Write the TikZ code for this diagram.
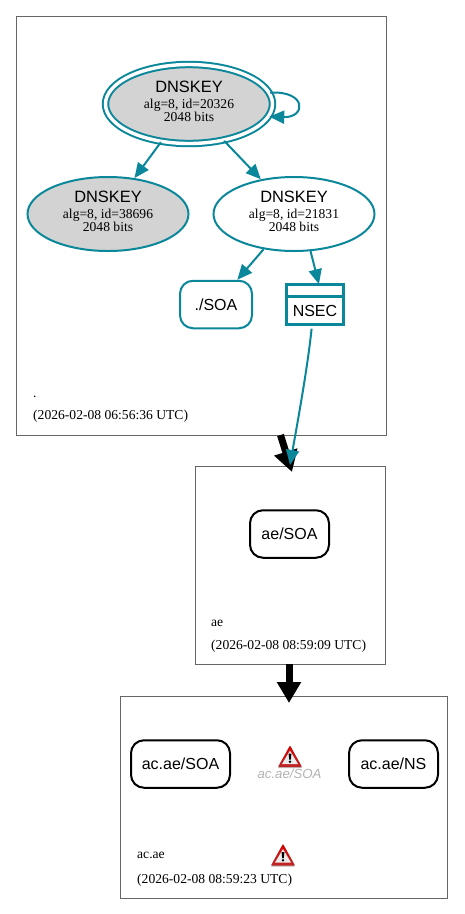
\documentclass[tikz,border=0pt]{standalone}
\usepackage{fontspec}
\setmainfont{Liberation Serif}
\setsansfont{Liberation Sans}
\usetikzlibrary{arrows.meta,positioning,shapes.geometric}
\definecolor{dnsteal}{HTML}{0A879A}
\definecolor{zonegray}{HTML}{666666}
\definecolor{keygray}{HTML}{D3D3D3}
\newcommand{\keylabel}[1]{{\sffamily\fontsize{16.4}{16}\selectfont DNSKEY}\\[2.5pt]
  alg=8, id=#1\\2048 bits\rule[-5pt]{0pt}{5pt}}
\tikzset{
  zone/.style={draw=zonegray,line width=0.7pt,inner sep=0pt,outer sep=0pt},
  zonetext/.style={anchor=base west,inner sep=0pt,font=\fontsize{13.6}{14}\selectfont},
  keynode/.style={ellipse,draw=dnsteal,line width=2pt,inner sep=0pt,align=center,
    minimum width=161pt,minimum height=74pt,font=\fontsize{13.6}{13}\selectfont},
  rrset/.style={draw,rounded corners=13pt,line width=2pt,inner sep=0pt,minimum height=47.5pt,
    font=\sffamily\fontsize{16}{16}\selectfont},
  nsecbox/.style={draw=dnsteal,line width=2.7pt,inner sep=0pt,outer sep=0pt,minimum width=57pt},
  signed/.style={draw=dnsteal,line width=2pt,-{Triangle[length=15pt,width=13pt]}},
  delegation/.style={line width=7pt,-{Triangle[length=21pt,width=23pt]}},
  warnicon/.pic={
    \fill[black!25,rounded corners=1pt] (-12.5,11.5) -- (0,-11.5) -- (12.5,11.5) -- cycle;
    \shade[top color=red!85!black,bottom color=red!70!black!85!white,rounded corners=1pt]
      (-12,10.5) -- (0,-11) -- (12,10.5) -- cycle;
    \fill[white!92!black] (-8,7.5) -- (0,-6) -- (8,7.5) -- cycle;
    \fill[black] (-1.4,-3) -- (1.4,-3) -- (0.8,3.2) -- (-0.8,3.2) -- cycle;
    \fill[black] (0,5.2) circle (1.3);
  }
}
\begin{document}
\begin{tikzpicture}[x=1pt,y=-1pt]
\useasboundingbox (0,0) rectangle (464,914);
% zones
\node[zone,minimum width=370pt,minimum height=419pt] (rootzone) at (201,225.5) {};
\node[zone,minimum width=190pt,minimum height=198pt] (aezone) at (290,565) {};
\node[zone,minimum width=327pt,minimum height=202pt] (aczone) at (283.5,797) {};
\node[zonetext] (rootname) at (33,397) {.};
\node[zonetext] (rootdate) at (33,419.5) {(2026-02-08 06:56:36 UTC)};
\node[zonetext] (aename) at (211,626) {ae};
\node[zonetext] (aedate) at (211,649.5) {(2026-02-08 08:59:09 UTC)};
\node[zonetext] (acname) at (137,858) {ac.ae};
\node[zonetext] (acdate) at (137,883.5) {(2026-02-08 08:59:23 UTC)};

% delegations
\coordinate (rootexit) at (280.5,435);
\coordinate (aeinto) at (292,472);
\coordinate (aeexit) at (289,664);
\coordinate (acinto) at (289,703);
\draw[delegation] (rootexit) -- (aeinto);
\draw[delegation] (aeexit) -- (acinto);

% keys
\node[keynode,fill=keygray,double,double distance=3.4pt,minimum width=167pt,minimum height=79pt] (ksk) at (189,104) {\keylabel{20326}};
\node[keynode,fill=keygray,below of=ksk,node distance=110pt,xshift=-81pt] (sepkey) {\keylabel{38696}};
\node[keynode,below of=ksk,node distance=110pt,xshift=105pt] (zsk) {\keylabel{21831}};
\draw[signed] (ksk.8) .. controls +(37,-2) and +(37,1) .. (ksk.-9);
\draw[signed] (ksk) -- (sepkey);
\draw[signed] (ksk) -- (zsk);

% root rrsets
\node[rrset,draw=dnsteal,minimum width=72pt] (rootsoa) at (216,304.5) {./SOA};
\node[nsecbox,minimum height=12.5pt] (nsechead) at (315,290.5) {};
\node[nsecbox,minimum height=28pt,below=0pt of nsechead,font=\sffamily\fontsize{16}{16}\selectfont] (nsec) {NSEC};
\draw[signed] (zsk) -- (rootsoa);
\draw[signed] (zsk.-66) -- (nsechead.58);
\coordinate (aeentry) at (290,465);
\draw[signed,shorten <=4pt] (nsec.-102) to[out=-96,in=80,looseness=0.8] (aeentry);

% child zones
\node[rrset,minimum width=79pt] (aesoa) at (289.5,534) {ae/SOA};
\node[rrset,minimum width=99pt] (acsoa) at (180.5,764) {ac.ae/SOA};
\node[rrset,minimum width=89pt] (acns) at (393.5,764) {ac.ae/NS};
\node[inner sep=0pt,text=black!30,font=\sffamily\itshape\fontsize{13.2}{14}\selectfont] (missing) at (289.5,774) {ac.ae/SOA};
\pic at (290,756.5) {warnicon};
\pic at (283,855) {warnicon};
\end{tikzpicture}
\end{document}
